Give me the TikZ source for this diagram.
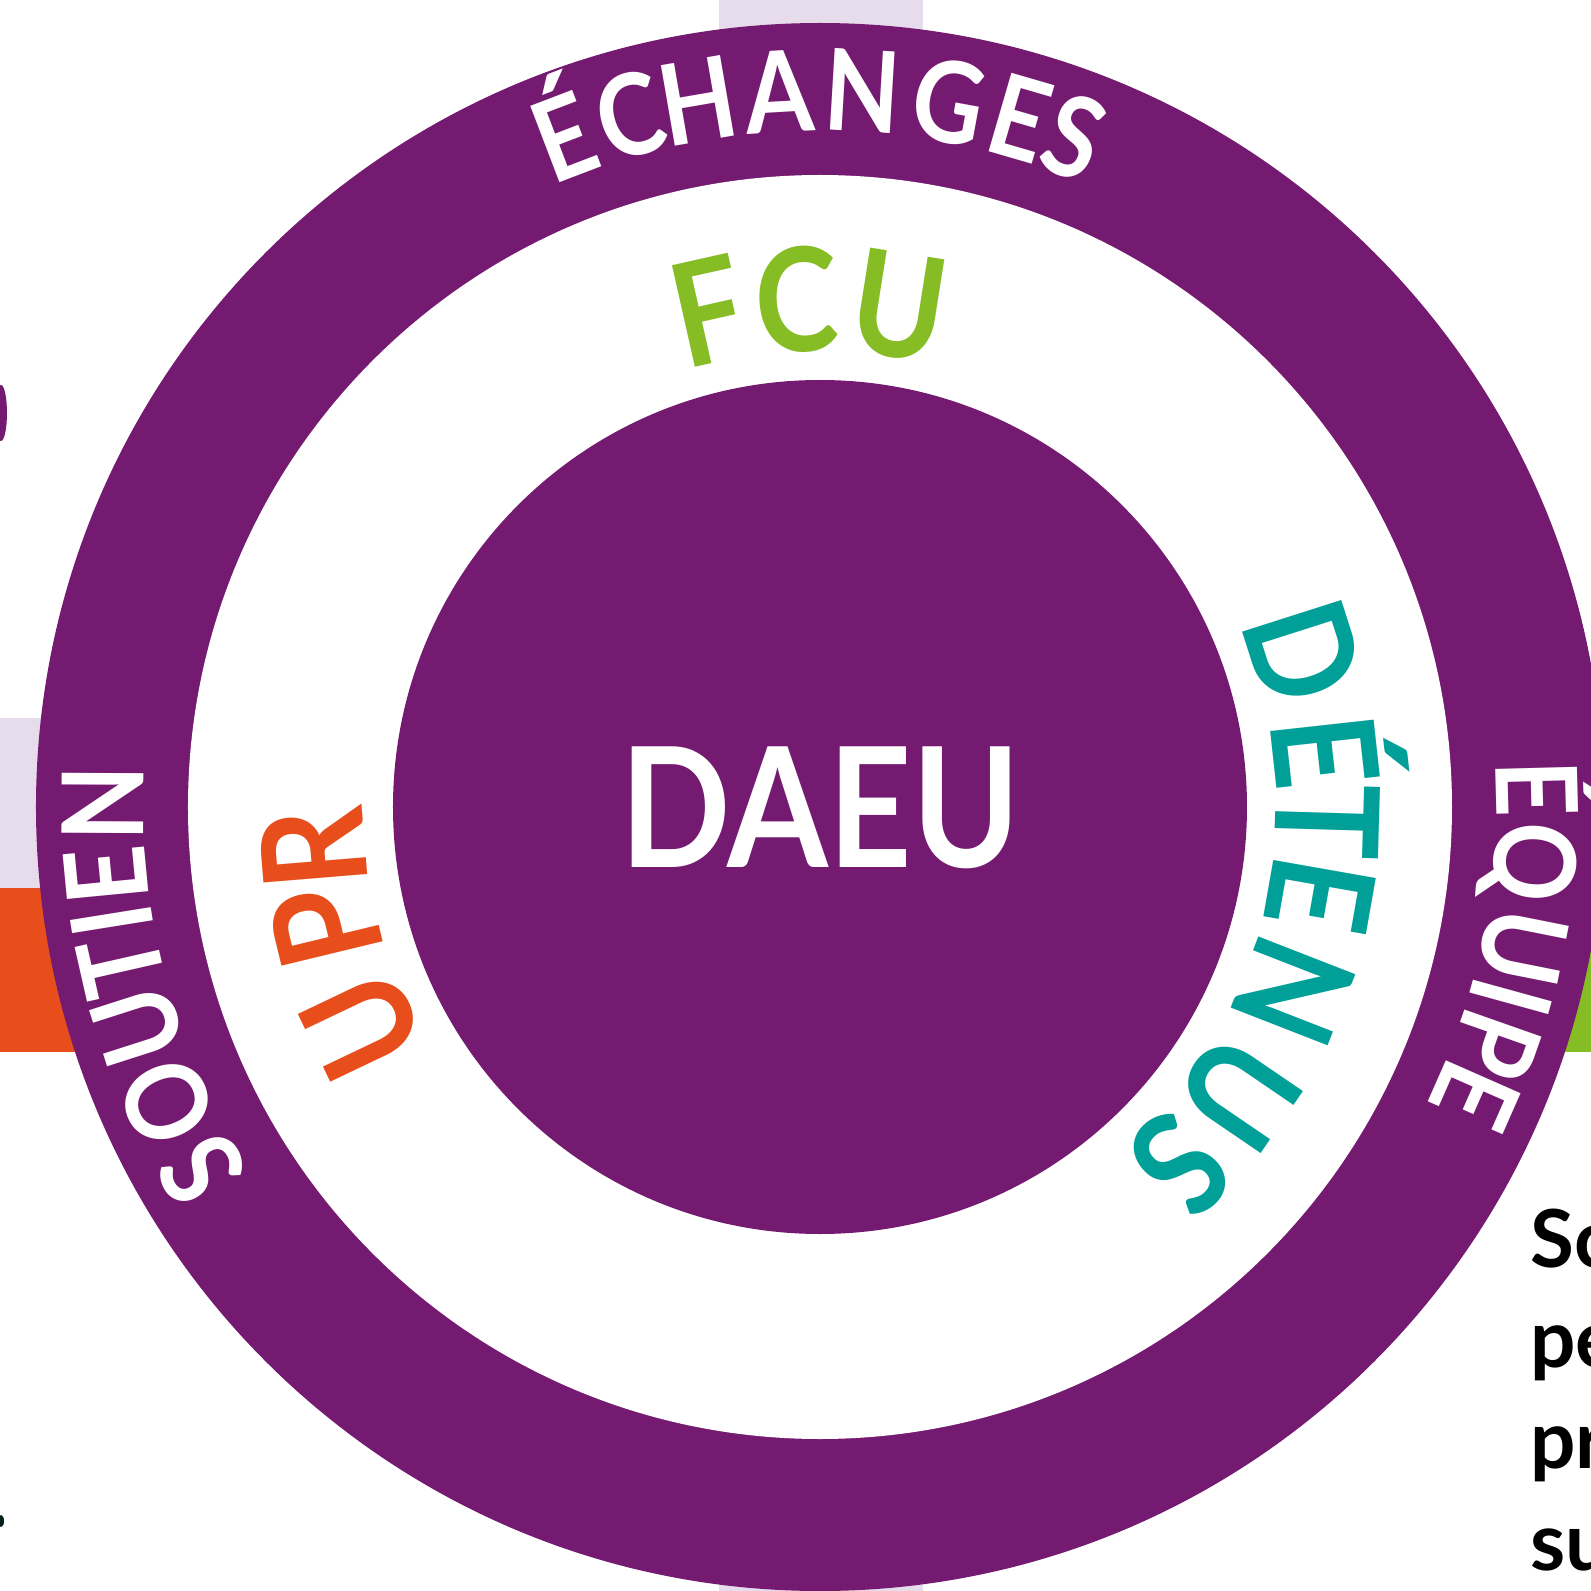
\documentclass[tikz,border=0pt]{standalone}
\usepackage{fontspec}
\setmainfont{Lato}[FakeStretch=0.87]
\newfontfamily\sidefont{Lato}
\usepackage{xcolor}
\definecolor{daeu-purple}{RGB}{117,26,113}
\definecolor{daeu-lilac}{RGB}{230,220,235}
\definecolor{daeu-orange}{RGB}{232,78,28}
\definecolor{daeu-green}{RGB}{134,188,36}
\definecolor{daeu-teal}{RGB}{0,160,152}
\tikzset{
    outer-letter/.style = {text=white, font=\fontsize{113}{113}\selectfont\bfseries, anchor=base, inner sep=0pt},
    inner-letter/.style = {font=\fontsize{144}{144}\selectfont\bfseries, anchor=base, inner sep=0pt},
    side-text/.style = {font=\sidefont\fontsize{80}{80}\selectfont\bfseries, anchor=base west, inner sep=0pt},
}
\begin{document}
\begin{tikzpicture}[x=1pt,y=1pt]
\useasboundingbox (-820,-784) rectangle (771,807);
% bands behind the rings
\fill[daeu-lilac] (-101,-784) rectangle (103,807);
\fill[daeu-lilac] (-820,89) rectangle (771,-81);
\fill[daeu-orange] (-820,-81) rectangle (0,-245);
\fill[daeu-green] (0,-81) rectangle (771,-245);
\fill[daeu-purple] (-819,394) ellipse (6 and 28);
\fill[black!80!daeu-teal] (-819,-714) ellipse (3 and 6);
% rings
\fill[daeu-purple] (0,0) circle (784);
\fill[white] (0,0) circle (632);
\fill[daeu-purple] (0,0) circle (427);
\node[text=white, font=\fontsize{167}{167}\selectfont\bfseries, inner sep=0pt] (daeu) at (0,-1) {DAEU};
% outer ring words
\foreach \ch/\ang [count=\i] in {É/110.9, C/105.4, H/99.8, A/93.3, N/86.6, G/79.6, E/73.8, S/69.2}
    \node[outer-letter, rotate=\ang-90] (echanges-\i) at (\ang:676) {\ch};
\foreach \ch/\ang [count=\i] in {S/210.4, O/204.3, U/197.8, T/192.8, I/189.1, E/185.5, N/179.7}
    \node[outer-letter, rotate=\ang-90] (soutien-\i) at (\ang:676) {\ch};
\foreach \ch/\ang [count=\i] in {É/1.5, Q/-4.4, U/-11.3, I/-15.4, P/-19.4, E/-23.8}
    \node[outer-letter, rotate=\ang-90] (equipe-\i) at (\ang:676) {\ch};
% inner ring words
\foreach \ch/\ang [count=\i] in {F/102.7, C/92.6, U/81.0}
    \node[inner-letter, text=daeu-green, rotate=\ang-90] (fcu-\i) at (\ang:456) {\ch};
\foreach \ch/\ang [count=\i] in {D/17.7, É/6.3, T/-1.7, E/-10.0, N/-21.3, U/-34.3, S/-44.8}
    \node[inner-letter, text=daeu-teal, rotate=\ang-90] (detenus-\i) at (\ang:456) {\ch};
\foreach \ch/\ang [count=\i] in {U/205.5, P/193.6, R/184.7}
    \node[inner-letter, text=daeu-orange, rotate=\ang-90] (upr-\i) at (\ang:456) {\ch};
% cut text on the right
\node[side-text] (line-a) at (710,-460) {Sc};
\node[side-text] (line-b) at (710,-560) {pe};
\node[side-text] (line-c) at (710,-661) {pr};
\node[side-text] (line-d) at (710,-763) {su};
\end{tikzpicture}
\end{document}
